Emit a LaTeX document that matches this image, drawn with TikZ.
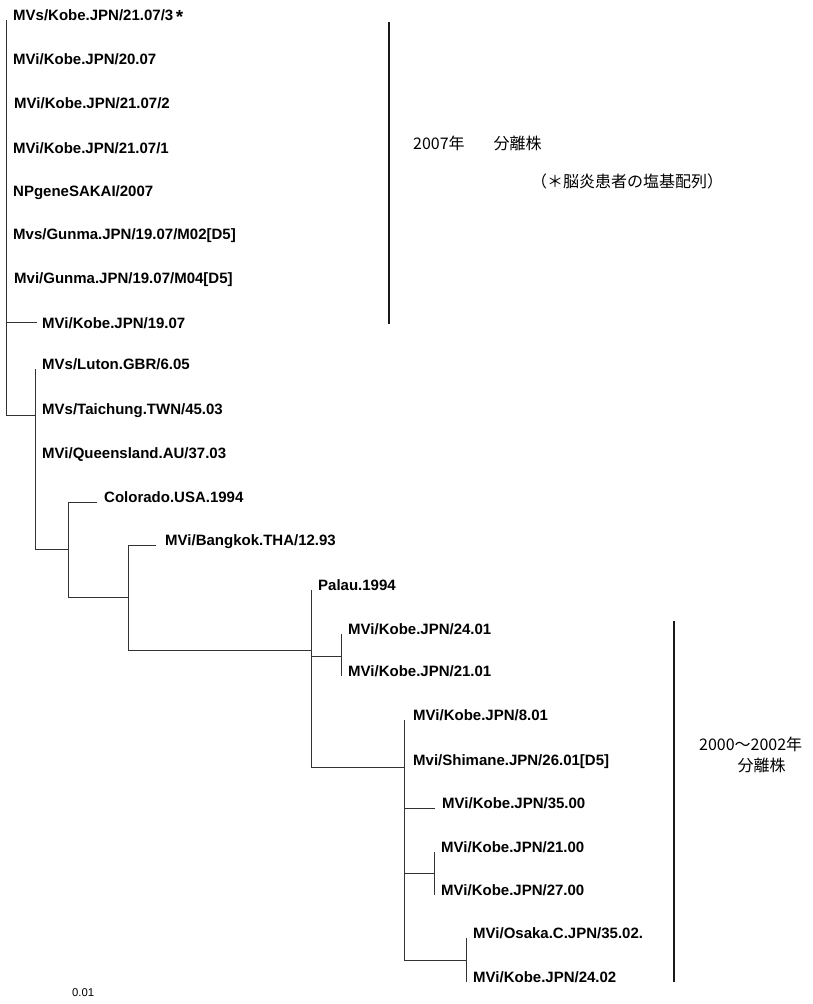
\documentclass[tikz,border=0pt]{standalone}
\usepackage{fontspec}
\setmainfont{Liberation Sans}
\newfontfamily\cjk{Noto Sans CJK JP}

\begin{document}
\begin{tikzpicture}[x=1pt, y=-1pt,
    br/.style={line width=0.8pt, black!80},
    bk/.style={line width=1.8pt, black!90},
    tx/.style={anchor=base west, inner sep=0pt, xshift=7pt, font=\bfseries\fontsize{15}{18}\selectfont},
    jp/.style={inner sep=0pt, font=\cjk\fontsize{16}{21}\selectfont}]
      \useasboundingbox (0,0) rectangle (812,1004);
      %
      \coordinate (N0) at (6,415);
      \coordinate (N1) at (35,415);
      \coordinate (N2) at (68,549);
      \coordinate (N3) at (128,597);
      \coordinate (N4) at (311,650);
      \coordinate (N5) at (341,656);
      \coordinate (N6) at (404,767);
      \coordinate (N7) at (434,873);
      \coordinate (N8) at (466,960);
      %
      \coordinate (S1) at (6,20);
      \coordinate (S2) at (6,64);
      \coordinate (S3) at (6,108);
      \coordinate (S4) at (6,153);
      \coordinate (S5) at (6,196);
      \coordinate (S6) at (6,239);
      \coordinate (S7) at (6,283);
      \coordinate (S8) at (37,322);
      \coordinate (S9) at (35,369);
      \coordinate (S10) at (35,414);
      \coordinate (S11) at (35,458);
      \coordinate (S12) at (97,502);
      \coordinate (S13) at (156,545);
      \coordinate (S14) at (311,590);
      \coordinate (S15) at (341,634);
      \coordinate (S16) at (341,676);
      \coordinate (S17) at (404,720);
      \coordinate (S18) at (404,765);
      \coordinate (S19) at (435,808);
      \coordinate (S20) at (434,852);
      \coordinate (S21) at (434,895);
      \coordinate (S22) at (466,938);
      \coordinate (S23) at (466,982);
      %
      \draw[br] (N0) |- (S1);
      \draw[br] (N0) |- (S8);
      \draw[br] (N0) |- (N1);
      \draw[br] (N1) |- (S9);
      \draw[br] (N1) |- (N2);
      \draw[br] (N2) |- (S12);
      \draw[br] (N2) |- (N3);
      \draw[br] (N3) |- (S13);
      \draw[br] (N3) |- (N4);
      \draw[br] (N4) |- (S14);
      \draw[br] (N4) |- (N5);
      \draw[br] (N4) |- (N6);
      \draw[br] (N5) |- (S15);
      \draw[br] (N5) |- (S16);
      \draw[br] (N6) |- (S17);
      \draw[br] (N6) |- (S19);
      \draw[br] (N6) |- (N7);
      \draw[br] (N6) |- (N8);
      \draw[br] (N7) |- (S20);
      \draw[br] (N7) |- (S21);
      \draw[br] (N8) |- (S22);
      \draw[br] (N8) |- (S23);
      %
      \node[tx] (T1) at (S1) {MVs/Kobe.JPN/21.07/3\,\raisebox{-3pt}{\fontsize{19}{19}\selectfont*}};
      \node[tx] (T2) at (S2) {MVi/Kobe.JPN/20.07};
      \node[tx, xshift=1pt] (T3) at (S3) {MVi/Kobe.JPN/21.07/2};
      \node[tx] (T4) at (S4) {MVi/Kobe.JPN/21.07/1};
      \node[tx] (T5) at (S5) {NPgeneSAKAI/2007};
      \node[tx] (T6) at (S6) {Mvs/Gunma.JPN/19.07/M02[D5]};
      \node[tx, xshift=1pt] (T7) at (S7) {Mvi/Gunma.JPN/19.07/M04[D5]};
      \node[tx, xshift=-2pt, yshift=-6pt] (T8) at (S8) {MVi/Kobe.JPN/19.07};
      \node[tx] (T9) at (S9) {MVs/Luton.GBR/6.05};
      \node[tx] (T10) at (S10) {MVs/Taichung.TWN/45.03};
      \node[tx] (T11) at (S11) {MVi/Queensland.AU/37.03};
      \node[tx] (T12) at (S12) {Colorado.USA.1994};
      \node[tx, xshift=2pt] (T13) at (S13) {MVi/Bangkok.THA/12.93};
      \node[tx] (T14) at (S14) {Palau.1994};
      \node[tx] (T15) at (S15) {MVi/Kobe.JPN/24.01};
      \node[tx] (T16) at (S16) {MVi/Kobe.JPN/21.01};
      \node[tx, xshift=2pt] (T17) at (S17) {MVi/Kobe.JPN/8.01};
      \node[tx, xshift=2pt] (T18) at (S18) {Mvi/Shimane.JPN/26.01[D5]};
      \node[tx] (T19) at (S19) {MVi/Kobe.JPN/35.00};
      \node[tx] (T20) at (S20) {MVi/Kobe.JPN/21.00};
      \node[tx] (T21) at (S21) {MVi/Kobe.JPN/27.00};
      \node[tx] (T22) at (S22) {MVi/Osaka.C.JPN/35.02.};
      \node[tx] (T23) at (S23) {MVi/Kobe.JPN/24.02};
      %
      \draw[bk] (389,22) -- (389,324);
      \draw[bk] (674,621) -- (674,982);
      %
      \node[jp, anchor=west] (J1) at (413,143) {2007年\hspace{1.8em}分離株};
      \node[jp, anchor=west] (J2) at (531,181) {（＊脳炎患者の塩基配列）};
      \node[jp, anchor=north west, align=left] (J3) at (699,737) {2000～2002年\\\hspace*{2.4em}分離株};
      %
      \node[anchor=west, inner sep=0pt, font=\fontsize{11.3}{13}\selectfont] (SC) at (72,993) {0.01};
    \end{tikzpicture}
\end{document}
